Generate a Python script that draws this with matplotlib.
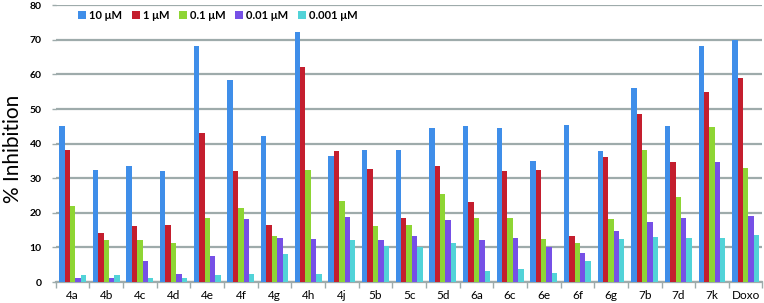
import numpy as np
import matplotlib.pyplot as plt

plt.rcParams['font.family'] = ['Lato', 'DejaVu Sans']

# compounds on the x axis
compounds = ['4a', '4b', '4c', '4d', '4e', '4f', '4g', '4h', '4j', '5b', '5c',
             '5d', '6a', '6c', '6e', '6f', '6g', '7b', '7d', '7k', 'Doxo']

# % inhibition at each concentration
inh_10 = [45.2, 32.4, 33.5, 32.1, 68.2, 58.4, 42.2, 72.2, 36.4, 38.3, 38.3,
          44.4, 45.0, 44.6, 35.1, 45.4, 38.0, 56.1, 45.1, 68.1, 69.8]
inh_1 = [38.1, 14.1, 16.1, 16.4, 43.1, 32.1, 16.4, 62.0, 38.0, 32.6, 18.4,
         33.4, 23.1, 32.0, 32.4, 13.4, 36.0, 48.5, 34.7, 55.0, 58.9]
inh_01 = [22.1, 12.3, 12.3, 11.2, 18.6, 21.4, 13.2, 32.3, 23.5, 16.1, 16.4,
          25.4, 18.4, 18.4, 12.4, 11.2, 18.2, 38.3, 24.6, 44.7, 32.9]
inh_001 = [1.3, 1.1, 6.2, 2.3, 7.5, 18.3, 12.7, 12.5, 18.8, 12.1, 13.2,
           17.8, 12.1, 12.8, 10.2, 8.4, 14.7, 17.3, 18.5, 34.6, 19.0]
inh_0001 = [2.0, 2.0, 1.3, 1.1, 2.0, 2.3, 8.1, 2.3, 12.1, 10.4, 10.0,
            11.2, 3.2, 3.7, 2.5, 6.2, 12.5, 12.9, 12.7, 12.7, 13.7]

series = [inh_10, inh_1, inh_01, inh_001, inh_0001]
labels = ['10 μM', '1 μM', '0.1 μM', '0.01 μM', '0.001 μM']
colors = ['#3f8ee9', '#c41e2e', '#8ed534', '#7650e6', '#52d3d8']
grid_col = '#9eabab'

fig = plt.figure(figsize=(7.64, 3.03), dpi=100)
ax = fig.add_axes([0.073, 0.069, 0.925, 0.914])

x = np.arange(len(compounds))
w = 0.16
for i, (vals, lab, col) in enumerate(zip(series, labels, colors)):
    ax.bar(x + (i - 2) * w, vals, width=w, color=col, label=lab, zorder=3)

ax.set_xlim(-0.5, len(compounds) - 0.5)
ax.set_ylim(0, 80)
ax.set_yticks(range(0, 81, 10))
ax.yaxis.grid(True, color=grid_col, linewidth=1.6, zorder=0)
ax.tick_params(axis='y', length=3, color=grid_col, width=1, pad=7, labelsize=7.5)
for t in ax.get_yticklabels():
    t.set_fontweight('bold')

# category separators as ticks, labels in the middle
ax.set_xticks(np.arange(-0.5, len(compounds), 1))
ax.set_xticklabels([])
ax.set_xticks(x, minor=True)
ax.set_xticklabels(compounds, minor=True, fontsize=8.5)
ax.tick_params(axis='x', which='major', length=4, color=grid_col, width=1)
ax.tick_params(axis='x', which='minor', length=0, pad=6)

for s in ['left', 'right', 'top']:
    ax.spines[s].set_visible(False)
ax.spines['bottom'].set_color(grid_col)
ax.spines['bottom'].set_linewidth(1.6)

ax.set_ylabel('% Inhibition', fontsize=15)
ax.yaxis.set_label_coords(-0.047, 0.48)

ax.legend(loc='upper left', bbox_to_anchor=(0.018, 1.02), ncol=5,
          frameon=False, handlelength=0.7, handleheight=0.7,
          handletextpad=0.25, columnspacing=0.9,
          prop={'weight': 'bold', 'size': 8})

fig.savefig('out.png', dpi=100)
